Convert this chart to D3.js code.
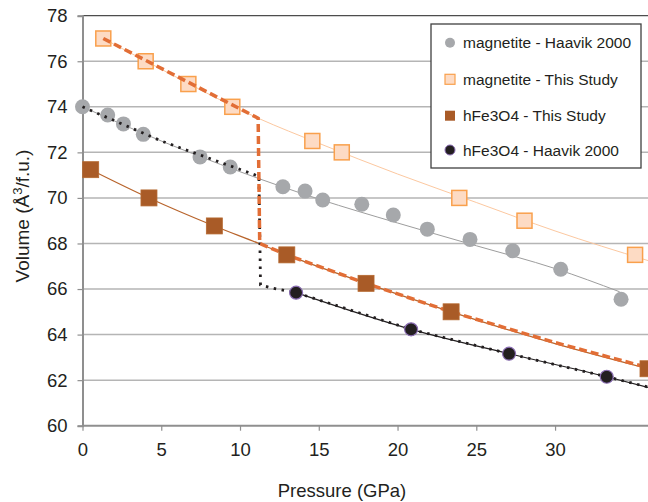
<!DOCTYPE html>
<html>
<head>
<meta charset="utf-8">
<script src="https://cdn.jsdelivr.net/npm/d3@7"></script>
<style>
  body { margin: 0; background: #fff; }
  text { font-family: "Liberation Sans", Arial, sans-serif; fill: #231f20; }
</style>
</head>
<body>
<div id="chart"></div>
<script>
// axis ticks
var xTicks = [0, 5, 10, 15, 20, 25, 30];
var yTicks = [60, 62, 64, 66, 68, 70, 72, 74, 76, 78];

// magnetite - Haavik 2000 (grey circles)
var magHaavikP = [0, 1.6, 2.6, 3.86, 7.46, 9.38, 12.72, 14.13, 15.25, 17.73, 19.73, 21.89, 24.6, 27.31, 30.36, 34.19];
var magHaavikV = [74.0, 73.64, 73.25, 72.79, 71.8, 71.36, 70.49, 70.3, 69.91, 69.72, 69.25, 68.63, 68.18, 67.68, 66.87, 65.55];

// magnetite - This Study (light squares)
var magStudyP = [1.32, 4.01, 6.72, 9.51, 14.59, 16.46, 23.92, 28.06, 35.08];
var magStudyV = [77.0, 76.0, 75.0, 74.0, 72.5, 72.0, 70.0, 69.0, 67.5];

// hFe3O4 - This Study (brown squares)
var hStudyP = [0.52, 4.22, 8.37, 12.97, 18.0, 23.4, 35.9];
var hStudyV = [71.24, 70.0, 68.77, 67.5, 66.25, 65.0, 62.5];

// hFe3O4 - Haavik 2000 (black circles)
var hHaavikP = [13.56, 20.86, 27.08, 33.28];
var hHaavikV = [65.84, 64.23, 63.16, 62.15];

// fitted curves
var magHaavikFitP = [0, 5, 10, 15, 20, 25, 30, 34.1];
var magHaavikFitV = [74.0, 72.5, 71.15, 69.95, 68.9, 67.9, 66.9, 65.88];
var magStudyFitP = [1.32, 5, 11.15, 15, 20, 25, 30, 35.9];
var magStudyFitV = [77.0, 75.65, 73.5, 72.4, 71.05, 69.8, 68.55, 67.25];
var hStudyFitP = [0.52, 4.22, 8.37, 11.2, 12.97, 18.0, 23.4, 30, 35.9];
var hStudyFitV = [71.24, 70.0, 68.77, 68.0, 67.5, 66.25, 65.0, 63.6, 62.5];
var hHaavikFitP = [13.56, 20.86, 27.08, 33.28, 35.9];
var hHaavikFitV = [65.84, 64.23, 63.16, 62.15, 61.68];

// transition paths (dashed: this study, dotted: Haavik)
var studyPathP = [1.32, 11.15, 11.25, 12.97, 18.0, 23.4, 30, 35.9];
var studyPathV = [77.0, 73.5, 68.0, 67.5, 66.25, 65.0, 63.65, 62.55];
var haavikPathP = [0, 5, 11.2, 11.3, 12.0, 13.56, 20.86, 27.08, 33.28, 35.9];
var haavikPathV = [74.0, 72.5, 70.95, 66.18, 66.05, 65.84, 64.23, 63.16, 62.15, 61.7];

var legendNames = ["magnetite - Haavik 2000", "magnetite - This Study", "hFe3O4 - This Study", "hFe3O4 - Haavik 2000"];

function zipPts(ps, vs) {
  return ps.map(function(p, i) { return [p, vs[i]]; });
}

var width = 648, height = 502;
var svg = d3.select("#chart").append("svg")
  .attr("width", width)
  .attr("height", height);

var x = d3.scaleLinear().domain([0, 35.9]).range([82.5, 648]);
var y = d3.scaleLinear().domain([60, 78]).range([425.7, 15.7]);

// gridlines
svg.selectAll(".grid")
  .data(yTicks.filter(function(d) { return d > 60 && d < 78; }))
  .enter().append("line")
  .attr("x1", x(0)).attr("x2", width)
  .attr("y1", function(d) { return y(d); })
  .attr("y2", function(d) { return y(d); })
  .attr("stroke", "#b5b5b5")
  .attr("stroke-width", 1.5);

// top border of plot area
svg.append("line")
  .attr("x1", x(0)).attr("x2", width)
  .attr("y1", y(78)).attr("y2", y(78))
  .attr("stroke", "#4d4d4d")
  .attr("stroke-width", 1.2);

// axes
var yAxis = d3.axisLeft(y).tickValues(yTicks).tickSize(5).tickPadding(10);
var gy = svg.append("g").attr("transform", "translate(" + x(0) + ",0)").call(yAxis);
var xAxis = d3.axisBottom(x).tickValues(xTicks).tickSize(5).tickPadding(12);
var gx = svg.append("g").attr("transform", "translate(0," + y(60) + ")").call(xAxis);
[gx, gy].forEach(function(g) {
  g.select(".domain").attr("stroke", "#8f8f8f").attr("stroke-width", 2);
  g.selectAll(".tick line").attr("stroke", "#8f8f8f").attr("stroke-width", 1.2);
  g.selectAll(".tick text")
    .style("font-size", "18.5px")
    .style("font-family", "Liberation Sans, Arial, sans-serif")
    .attr("fill", "#231f20");
});
gx.select(".domain").attr("d", "M" + x(0) + ",0H" + width);

var line = d3.line()
  .x(function(d) { return x(d[0]); })
  .y(function(d) { return y(d[1]); });
var smooth = d3.line()
  .x(function(d) { return x(d[0]); })
  .y(function(d) { return y(d[1]); })
  .curve(d3.curveMonotoneX);

// thin fit lines
svg.append("path").attr("d", smooth(zipPts(magHaavikFitP, magHaavikFitV)))
  .attr("fill", "none").attr("stroke", "#9d9d9d").attr("stroke-width", 1);
svg.append("path").attr("d", smooth(zipPts(magStudyFitP, magStudyFitV)))
  .attr("fill", "none").attr("stroke", "#fcc8a0").attr("stroke-width", 1);
svg.append("path").attr("d", smooth(zipPts(hStudyFitP, hStudyFitV)))
  .attr("fill", "none").attr("stroke", "#b8642c").attr("stroke-width", 1.2);
svg.append("path").attr("d", smooth(zipPts(hHaavikFitP, hHaavikFitV)))
  .attr("fill", "none").attr("stroke", "#231f20").attr("stroke-width", 1.2);

// grey circles
svg.selectAll(".magH")
  .data(zipPts(magHaavikP, magHaavikV))
  .enter().append("circle")
  .attr("cx", function(d) { return x(d[0]); })
  .attr("cy", function(d) { return y(d[1]); })
  .attr("r", 7.5)
  .attr("fill", "#a6a8ab");

// light squares
var sq = 15;
svg.selectAll(".magS")
  .data(zipPts(magStudyP, magStudyV))
  .enter().append("rect")
  .attr("x", function(d) { return x(d[0]) - sq / 2; })
  .attr("y", function(d) { return y(d[1]) - sq / 2; })
  .attr("width", sq).attr("height", sq)
  .attr("fill", "#fddbc4")
  .attr("stroke", "#f9a04c")
  .attr("stroke-width", 1.5);

// transition paths
svg.append("path").attr("d", line(zipPts(haavikPathP, haavikPathV)))
  .attr("fill", "none").attr("stroke", "#231f20").attr("stroke-width", 2.8)
  .attr("stroke-dasharray", "2.5,5.5");
svg.append("path").attr("d", line(zipPts(studyPathP, studyPathV)))
  .attr("fill", "none").attr("stroke", "#e26e36").attr("stroke-width", 3.5)
  .attr("stroke-dasharray", "8,4");

// brown squares
var sq2 = 16;
svg.selectAll(".hS")
  .data(zipPts(hStudyP, hStudyV))
  .enter().append("rect")
  .attr("x", function(d) { return x(d[0]) - sq2 / 2; })
  .attr("y", function(d) { return y(d[1]) - sq2 / 2; })
  .attr("width", sq2).attr("height", sq2)
  .attr("fill", "#a95b27")
  .attr("stroke", "#b5682f")
  .attr("stroke-width", 0.8);

// black circles
svg.selectAll(".hH")
  .data(zipPts(hHaavikP, hHaavikV))
  .enter().append("circle")
  .attr("cx", function(d) { return x(d[0]); })
  .attr("cy", function(d) { return y(d[1]); })
  .attr("r", 6.5)
  .attr("fill", "#231f20")
  .attr("stroke", "#8a6db3")
  .attr("stroke-width", 1.2);

// axis titles
svg.append("text")
  .attr("x", 342).attr("y", 497)
  .attr("text-anchor", "middle")
  .style("font-size", "18.5px")
  .text("Pressure (GPa)");

var yt = svg.append("text")
  .attr("transform", "translate(29,216) rotate(-90)")
  .attr("text-anchor", "middle")
  .style("font-size", "19px");
yt.append("tspan").text("Volume (Å");
yt.append("tspan").attr("dy", -7).style("font-size", "13px").text("3");
yt.append("tspan").attr("dy", 7).text("/f.u.)");

// legend
var legend = svg.append("g");
legend.append("rect")
  .attr("x", 431).attr("y", 24)
  .attr("width", 210).attr("height", 144)
  .attr("fill", "#fff")
  .attr("stroke", "#404040")
  .attr("stroke-width", 1.3);
var rowY = [42.7, 79.3, 115.7, 150];
legendNames.forEach(function(name, i) {
  var cy = rowY[i];
  if (i === 0) {
    legend.append("circle").attr("cx", 450).attr("cy", cy).attr("r", 5).attr("fill", "#a6a8ab");
  } else if (i === 1) {
    legend.append("rect").attr("x", 445).attr("y", cy - 5).attr("width", 10).attr("height", 10)
      .attr("fill", "#fddbc4").attr("stroke", "#f9a04c").attr("stroke-width", 1.2);
  } else if (i === 2) {
    legend.append("rect").attr("x", 445).attr("y", cy - 5).attr("width", 10).attr("height", 10)
      .attr("fill", "#a95b27");
  } else {
    legend.append("circle").attr("cx", 450).attr("cy", cy).attr("r", 5)
      .attr("fill", "#231f20").attr("stroke", "#8a6db3").attr("stroke-width", 1);
  }
  legend.append("text")
    .attr("x", 463).attr("y", cy + 5.5)
    .style("font-size", "15.5px")
    .text(name);
});
</script>
</body>
</html>
